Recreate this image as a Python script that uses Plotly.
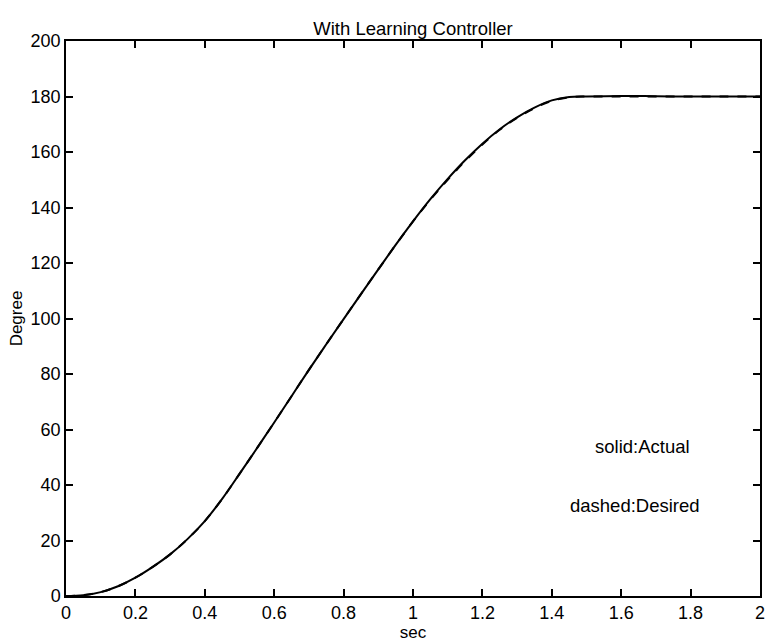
import plotly.graph_objects as go

# Time axis (seconds) and joint angle trajectories (degrees)
t_sec = [0.0, 0.05, 0.1, 0.15, 0.2, 0.25, 0.3, 0.35, 0.4, 0.45, 0.5,
         0.55, 0.6, 0.65, 0.7, 0.75, 0.8, 0.85, 0.9, 0.95, 1.0,
         1.05, 1.1, 1.15, 1.2, 1.25, 1.3, 1.35, 1.4, 1.45, 1.5,
         1.6, 1.7, 1.8, 1.9, 2.0]
actual_deg = [0.0, 0.3, 1.4, 3.5, 6.6, 10.5, 15.0, 20.5, 27.0, 35.0, 44.0,
              53.2, 62.5, 72.0, 81.5, 90.7, 99.8, 108.8, 117.7, 126.5, 135.0,
              143.0, 150.3, 157.0, 163.0, 168.2, 172.5, 176.0, 178.6, 179.8, 180.0,
              180.2, 180.1, 180.0, 180.0, 180.0]
desired_deg = [0.0, 0.3, 1.4, 3.5, 6.6, 10.5, 15.0, 20.5, 27.0, 35.0, 44.0,
               53.2, 62.5, 72.0, 81.5, 90.7, 99.8, 108.8, 117.7, 126.5, 135.0,
               142.8, 150.0, 156.7, 162.7, 168.0, 172.3, 175.8, 178.4, 179.7, 180.0,
               180.0, 180.0, 180.0, 180.0, 180.0]

x_ticks = [0, 0.2, 0.4, 0.6, 0.8, 1.0, 1.2, 1.4, 1.6, 1.8, 2.0]
x_tick_text = ["0", "0.2", "0.4", "0.6", "0.8", "1", "1.2", "1.4", "1.6", "1.8", "2"]
y_ticks = [0, 20, 40, 60, 80, 100, 120, 140, 160, 180, 200]

notes = [("solid:Actual", 1.66, 54.0), ("dashed:Desired", 1.64, 32.5)]

FONT = "Liberation Sans, Arial, Helvetica, sans-serif"

fig = go.Figure()
fig.add_trace(go.Scatter(x=t_sec, y=desired_deg, mode="lines",
                         line=dict(color="black", width=2, dash="dash", shape="spline"),
                         showlegend=False))
fig.add_trace(go.Scatter(x=t_sec, y=actual_deg, mode="lines",
                         line=dict(color="black", width=2, shape="spline"),
                         showlegend=False))

for txt, xx, yy in notes:
    fig.add_annotation(x=xx, y=yy, text=txt, showarrow=False,
                       font=dict(family=FONT, size=18.5, color="black"),
                       xanchor="center", yanchor="middle")

axis_common = dict(showgrid=False, zeroline=False, showline=True, linecolor="black",
                   linewidth=1.5, mirror="ticks", ticks="inside", ticklen=7,
                   tickwidth=1.5, tickcolor="black", ticklabeloverflow="allow",
                   tickfont=dict(family=FONT, size=18, color="black"))

fig.update_layout(
    width=767, height=644,
    margin=dict(l=66, r=2, t=41, b=48),
    paper_bgcolor="white", plot_bgcolor="white",
    title=dict(text="With Learning Controller", xref="paper", x=0.5, xanchor="center",
               y=1 - 29 / 644, yanchor="middle",
               font=dict(family=FONT, size=18.5, color="black")),
    xaxis=dict(range=[0, 2], tickvals=x_ticks, ticktext=x_tick_text,
               title=dict(text="sec", standoff=1,
                          font=dict(family=FONT, size=17, color="black")),
               **axis_common),
    yaxis=dict(range=[0, 200], tickvals=y_ticks,
               title=dict(text="Degree", standoff=4,
                          font=dict(family=FONT, size=17, color="black")),
               **axis_common),
)

fig.write_html("out.html")
